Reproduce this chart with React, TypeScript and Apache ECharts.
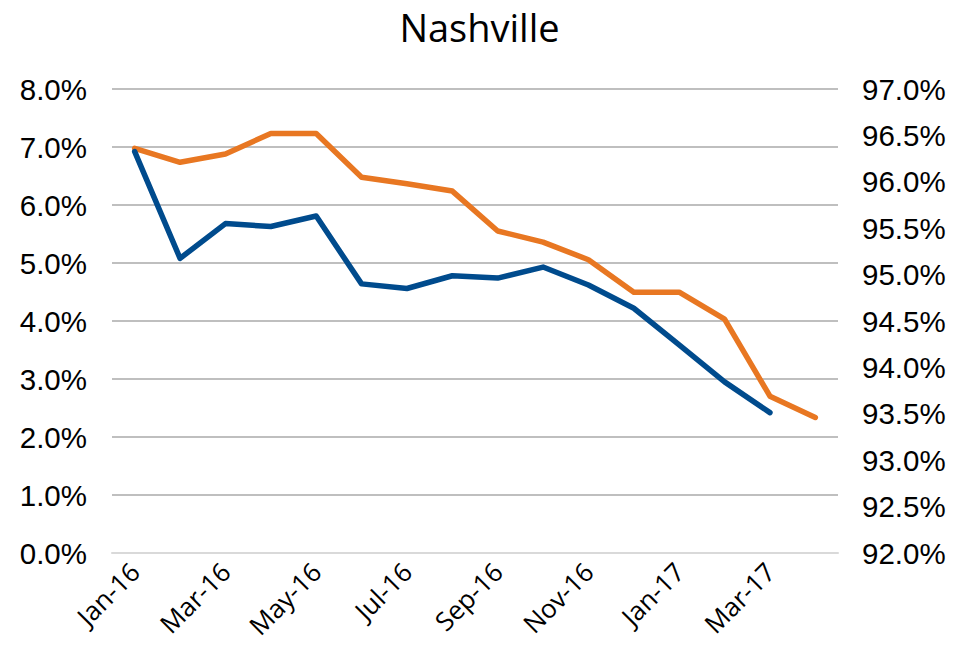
import React, { useEffect, useRef } from "react";
import * as echarts from "echarts";

const categories = [
  "Jan-16", "Feb-16", "Mar-16", "Apr-16", "May-16", "Jun-16", "Jul-16", "Aug-16",
  "Sep-16", "Oct-16", "Nov-16", "Dec-16", "Jan-17", "Feb-17", "Mar-17", "Apr-17",
];
const blueSeries = [6.92, 5.08, 5.68, 5.63, 5.81, 4.64, 4.56, 4.78, 4.74, 4.93, 4.62, 4.22, 3.59, 2.95, 2.42, null];
const orangeSeries = [96.36, 96.21, 96.30, 96.52, 96.52, 96.05, 95.98, 95.90, 95.47, 95.35, 95.16, 94.81, 94.81, 94.52, 93.69, 93.46];
const titleText = "Nashville";

const ARIAL = "'Liberation Sans', Arial, sans-serif";
const HUMANIST = "'Open Sans', 'Noto Sans', sans-serif";

export default function App() {
  const ref = useRef<HTMLDivElement>(null);
  useEffect(() => {
    document.body.style.margin = "0";
    const chart = echarts.init(ref.current!, null, { renderer: "svg" });
    chart.setOption({
      animation: false,
      backgroundColor: "#ffffff",
      title: {
        text: titleText,
        left: "center",
        top: 3,
        textStyle: { fontFamily: HUMANIST, fontSize: 38, fontWeight: "normal", color: "#000" },
      },
      grid: { left: 112, right: 121, top: 89, bottom: 112, containLabel: false },
      xAxis: {
        type: "category",
        data: categories,
        boundaryGap: true,
        axisLine: { show: true, lineStyle: { color: "#d9d9d9", width: 2 } },
        axisTick: { show: false },
        axisLabel: {
          interval: 1,
          rotate: 45,
          fontFamily: HUMANIST,
          fontSize: 26,
          color: "#000",
          margin: 14,
        },
      },
      yAxis: [
        {
          type: "value",
          min: 0,
          max: 8,
          interval: 1,
          axisLine: { show: false },
          axisTick: { show: false },
          splitLine: { show: true, lineStyle: { color: "#bfbfbf", width: 2 } },
          axisLabel: {
            fontFamily: ARIAL,
            fontSize: 29.5,
            color: "#000",
            margin: 25,
            formatter: (v: number) => v.toFixed(1) + "%",
          },
        },
        {
          type: "value",
          min: 92,
          max: 97,
          interval: 0.5,
          position: "right",
          axisLine: { show: false },
          axisTick: { show: false },
          splitLine: { show: false },
          axisLabel: {
            fontFamily: ARIAL,
            fontSize: 29.5,
            color: "#000",
            margin: 24,
            formatter: (v: number) => v.toFixed(1) + "%",
          },
        },
      ],
      series: [
        {
          type: "line",
          data: blueSeries,
          yAxisIndex: 0,
          showSymbol: false,
          lineStyle: { color: "#004b8d", width: 5.5, cap: "round", join: "round" },
          itemStyle: { color: "#004b8d" },
          z: 3,
        },
        {
          type: "line",
          data: orangeSeries,
          yAxisIndex: 1,
          showSymbol: false,
          lineStyle: { color: "#e87722", width: 5.5, cap: "round", join: "round" },
          itemStyle: { color: "#e87722" },
          z: 2,
        },
      ],
    });
    return () => chart.dispose();
  }, []);
  return (
    <div
      ref={ref}
      style={{ position: "fixed", left: 0, top: 0, width: 959, height: 665 }}
    />
  );
}
